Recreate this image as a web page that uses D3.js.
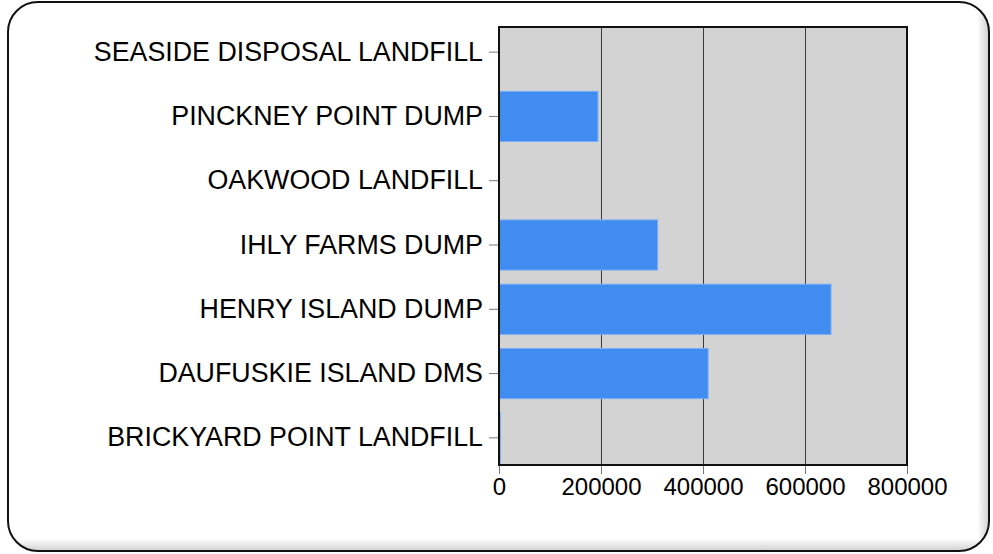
<!DOCTYPE html>
<html>
<head>
<meta charset="utf-8">
<script src="https://cdn.jsdelivr.net/npm/d3@7"></script>
<style>
  html, body { margin: 0; padding: 0; background: #fff; }
  svg { display: block; font-family: "Liberation Sans", Arial, sans-serif; }
</style>
</head>
<body>
<svg id="chart" width="993" height="554"></svg>
<script>
const sites = [
  'SEASIDE DISPOSAL LANDFILL',
  'PINCKNEY POINT DUMP',
  'OAKWOOD LANDFILL',
  'IHLY FARMS DUMP',
  'HENRY ISLAND DUMP',
  'DAUFUSKIE ISLAND DMS',
  'BRICKYARD POINT LANDFILL',
];
const amounts = [0, 194000, 0, 311000, 651000, 410000, 3000];
const xTicks = [0, 200000, 400000, 600000, 800000];

document.addEventListener('DOMContentLoaded', () => {
  const svg = d3.select('#chart');
  const plot = { left: 499, right: 907, top: 27, bottom: 465 };

  // frame with inset shadow on right/bottom
  const defs = svg.append('defs');
  const gradR = defs.append('linearGradient').attr('id', 'shR').attr('x1', 0).attr('x2', 1).attr('y1', 0).attr('y2', 0);
  gradR.append('stop').attr('offset', 0).attr('stop-color', '#fff');
  gradR.append('stop').attr('offset', 1).attr('stop-color', '#c8c8c8');
  const gradB = defs.append('linearGradient').attr('id', 'shB').attr('x1', 0).attr('x2', 0).attr('y1', 0).attr('y2', 1);
  gradB.append('stop').attr('offset', 0).attr('stop-color', '#fff');
  gradB.append('stop').attr('offset', 1).attr('stop-color', '#c8c8c8');
  defs.append('clipPath').attr('id', 'frameClip')
    .append('rect')
    .attr('x', 8).attr('y', 2).attr('width', 981).attr('height', 549)
    .attr('rx', 30).attr('ry', 30);

  svg.append('rect')
    .attr('x', 8).attr('y', 2).attr('width', 981).attr('height', 549)
    .attr('rx', 30).attr('ry', 30)
    .style('fill', '#fff');
  const sh = svg.append('g').attr('clip-path', 'url(#frameClip)');
  sh.append('rect').attr('x', 977).attr('y', 0).attr('width', 14).attr('height', 554).style('fill', 'url(#shR)');
  sh.append('rect').attr('x', 0).attr('y', 539).attr('width', 993).attr('height', 14).style('fill', 'url(#shB)');
  svg.append('rect')
    .attr('x', 8).attr('y', 2).attr('width', 981).attr('height', 549)
    .attr('rx', 30).attr('ry', 30)
    .style('fill', 'none')
    .style('stroke', '#111')
    .style('stroke-width', 2);

  const x = d3.scaleLinear().domain([0, 800000]).range([plot.left, plot.right]);
  const y = d3.scaleBand().domain(sites).range([20, 470]).paddingInner(0.22).paddingOuter(0.11);

  // plot background
  svg.append('rect')
    .attr('x', plot.left).attr('y', plot.top)
    .attr('width', plot.right - plot.left).attr('height', plot.bottom - plot.top)
    .style('fill', '#d3d3d3');

  // gridlines
  svg.append('g')
    .selectAll('line')
    .data(xTicks.slice(1, -1))
    .enter()
    .append('line')
    .attr('x1', d => x(d) + 0.5)
    .attr('x2', d => x(d) + 0.5)
    .attr('y1', plot.top)
    .attr('y2', plot.bottom)
    .style('stroke', '#3a3a3a')
    .style('stroke-width', 1);

  // bars
  svg.append('g')
    .selectAll('rect')
    .data(sites)
    .enter()
    .append('rect')
    .attr('x', x(0))
    .attr('y', d => y(d))
    .attr('width', (d, i) => x(amounts[i]) - x(0))
    .attr('height', y.bandwidth())
    .style('fill', '#418cf0')
    .style('stroke', '#7aaef5')
    .style('stroke-width', 1);

  // plot border
  svg.append('rect')
    .attr('x', plot.left).attr('y', plot.top)
    .attr('width', plot.right - plot.left).attr('height', plot.bottom - plot.top)
    .style('fill', 'none')
    .style('stroke', '#111')
    .style('stroke-width', 2);

  // y axis
  const yAxis = svg.append('g')
    .attr('transform', `translate(${plot.left - 1},0)`)
    .call(d3.axisLeft(y).tickSize(9).tickPadding(6));
  yAxis.select('.domain').remove();
  yAxis.selectAll('.tick line').style('stroke', '#777');
  yAxis.selectAll('.tick text')
    .style('font-size', '26.8px')
    .style('font-family', '"Liberation Sans", Arial, sans-serif')
    .style('fill', '#000');

  // x axis
  const xAxis = svg.append('g')
    .attr('transform', `translate(0,${plot.bottom + 1})`)
    .call(d3.axisBottom(x).tickValues(xTicks).tickFormat(d3.format('d')).tickSize(8).tickPadding(4));
  xAxis.select('.domain').remove();
  xAxis.selectAll('.tick line').style('stroke', '#777');
  xAxis.selectAll('.tick text')
    .style('font-size', '24px')
    .style('font-family', '"Liberation Sans", Arial, sans-serif')
    .style('fill', '#000');
});
</script>
</body>
</html>
